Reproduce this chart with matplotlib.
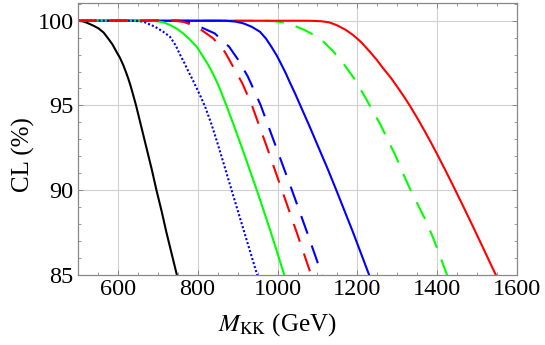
import matplotlib
matplotlib.use("Agg")
import matplotlib.pyplot as plt
from matplotlib.ticker import MultipleLocator, FixedLocator

plt.rcParams['font.family'] = ['Liberation Serif', 'DejaVu Serif']
plt.rcParams['mathtext.fontset'] = 'stix'

# --- data ---
black_M = [500, 514, 526, 540, 552, 565, 576, 587, 597, 606, 614, 621, 627, 633, 639, 646, 659, 672,
           685, 697, 710, 722, 735, 748, 760]
black_CL = [100, 99.96, 99.85, 99.7, 99.55, 99.3, 98.96, 98.6, 98.17, 97.8, 97.38, 96.95, 96.55, 96.1,
            95.6, 95.0, 93.75, 92.5, 91.25, 90.0, 88.75, 87.5, 86.25, 85.0, 83.8]

bdot_M = [500, 640, 664, 693, 714, 731, 745, 756, 767, 777, 788, 798, 809, 820, 836, 852, 868, 885,
          901, 917, 933, 949, 960]
bdot_CL = [100, 100, 99.95, 99.65, 99.35, 99.05, 98.55, 98.0, 97.5, 97.0, 96.5, 96.0, 95.45, 94.85,
           93.8, 92.6, 91.35, 90.0, 88.75, 87.5, 86.25, 85.0, 84.15]

gsol_M = [500, 680, 700, 715, 731, 748, 764, 781, 798, 812, 827, 840, 852, 862, 872, 891, 911, 931,
          951, 968, 984, 1000, 1016, 1030]
gsol_CL = [100, 100, 99.97, 99.9, 99.75, 99.53, 99.25, 98.88, 98.46, 97.95, 97.38, 96.8, 96.2, 95.6,
           95.0, 93.8, 92.5, 91.15, 89.8, 88.6, 87.45, 86.25, 85.05, 84.0]

rdash_M = [500, 740, 764, 798, 839, 868, 889, 912, 936, 974, 1011, 1048, 1084, 1095]
rdash_CL = [100, 100, 99.94, 99.65, 98.96, 98.17, 97.28, 96.3, 95.0, 92.5, 90.0, 87.5, 85.0, 84.3]

bdash_M = [500, 750, 781, 810, 843, 879, 902, 926, 943, 958, 997, 1036, 1074, 1111, 1125]
bdash_CL = [100, 100, 99.9, 99.6, 99.25, 98.46, 97.68, 96.69, 95.8, 95.0, 92.5, 90.0, 87.5, 85.0, 84.1]

bsol_M = [500, 870, 895, 914, 935, 956, 971, 985, 998, 1010, 1021, 1031, 1044, 1057, 1080, 1102,
          1125, 1147, 1168, 1189, 1209, 1229, 1240]
bsol_CL = [100, 100, 99.95, 99.85, 99.65, 99.35, 98.95, 98.45, 97.95, 97.4, 96.88, 96.35, 95.7, 95.0,
           93.77, 92.55, 91.28, 90.0, 88.75, 87.5, 86.25, 85.0, 84.35]

gdash_M = [500, 960, 995, 1027, 1068, 1106, 1139, 1164, 1193, 1214, 1235, 1256, 1276, 1294,
           1314, 1331, 1352, 1369, 1389, 1405, 1424, 1440]
gdash_CL = [100, 100, 99.97, 99.85, 99.45, 98.97, 98.2, 97.5, 96.55, 95.7, 94.82, 93.94, 92.96,
            92.1, 90.98, 90.1, 89.1, 88.3, 87.2, 86.2, 85.0, 84.2]

rsol_M = [500, 1080, 1110, 1130, 1150, 1170, 1189, 1210, 1231, 1248, 1264, 1283, 1301, 1317, 1332,
          1351, 1370, 1385, 1400, 1420, 1441, 1462, 1482, 1497, 1512, 1527, 1542, 1555]
rsol_CL = [100, 100, 99.97, 99.9, 99.72, 99.47, 99.16, 98.72, 98.17, 97.7, 97.2, 96.65, 96.05, 95.5,
           94.95, 94.2, 93.41, 92.76, 92.09, 91.17, 90.18, 89.17, 88.19, 87.45, 86.7, 85.95, 85.2, 84.55]

x_ticks = [600, 800, 1000, 1200, 1400, 1600]
y_ticks = [85, 90, 95, 100]

# --- figure ---
fig = plt.figure(figsize=(5.45, 3.45), dpi=100)
ax = fig.add_axes([77.7 / 545, 1 - 274.7 / 345, (517.3 - 77.7) / 545, (274.7 - 3.3) / 345])

lw = 1.5
dash = (0, (9, 6))
kw = dict(lw=lw, solid_joinstyle='round', solid_capstyle='butt')
ax.plot(black_M, black_CL, color='black', **kw)
ax.plot(gdash_M, gdash_CL, color='#00ff00', linestyle=dash, **kw)
ax.plot(rsol_M, rsol_CL, color='#ff0000', **kw)
ax.plot(bsol_M, bsol_CL, color='#0000ff', **kw)
ax.plot(bdash_M, bdash_CL, color='#0000ff', linestyle=dash, **kw)
ax.plot(gsol_M, gsol_CL, color='#00ff00', **kw)
ax.plot(bdot_M, bdot_CL, color='#0000ff', linestyle=(0, (1, 1)), **kw)
ax.plot(rdash_M, rdash_CL, color='#ff0000', linestyle=dash, **kw)

ax.set_xlim(500, 1600)
ax.set_ylim(85, 101.03)

ax.xaxis.set_major_locator(FixedLocator(x_ticks))
ax.xaxis.set_minor_locator(MultipleLocator(50))
ax.yaxis.set_major_locator(FixedLocator(y_ticks))
ax.yaxis.set_minor_locator(MultipleLocator(1))

for v in [600, 800, 1000, 1200, 1400]:
    ax.axvline(v, color='#d0d0d0', lw=0.8, zorder=0)
for v in [90, 95, 100]:
    ax.axhline(v, color='#d0d0d0', lw=0.8, zorder=0)

ax.tick_params(which='both', direction='in', top=True, right=True, color='#888888',
               labelsize=17.5, pad=3)
ax.tick_params(which='major', length=3.5, width=0.7)
ax.tick_params(which='minor', length=2, width=0.6)
for s in ax.spines.values():
    s.set_color('#888888')
    s.set_linewidth(0.9)

fig.text(23 / 545, 1 - 155 / 345, 'CL (%)', rotation=90, ha='center', va='center', fontsize=18)
fig.text(277 / 545, 1 - 325 / 345, r'$M_{\mathrm{KK}}$ (GeV)', ha='center', va='center', fontsize=18)

fig.savefig('out.png', dpi=100)
